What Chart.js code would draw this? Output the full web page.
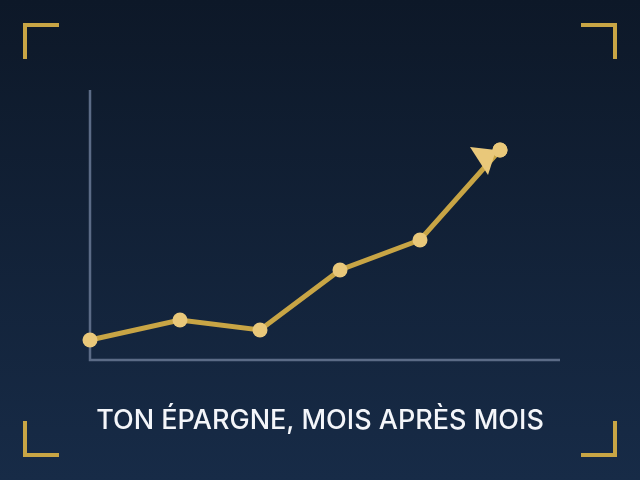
<!DOCTYPE html>
<html>
<head>
<meta charset="utf-8">
<script src="https://cdn.jsdelivr.net/npm/chart.js@4/dist/chart.umd.min.js"></script>
<style>
  html, body { margin: 0; padding: 0; }
  body { width: 640px; height: 480px; overflow: hidden;
         background: linear-gradient(180deg, #0d1828 0%, #172b47 100%); }
  #wrap { position: relative; width: 640px; height: 480px; }
  #title { position: absolute; left: 0; top: 403px; width: 640px; text-align: center;
           color: #f4f6fa; font-family: Inter, sans-serif; font-weight: 500; font-size: 27px; }
</style>
</head>
<body>
<div id="wrap">
  <canvas id="savingsChart" width="640" height="480"></canvas>
  <div id="title">TON ÉPARGNE, MOIS APRÈS MOIS</div>
</div>
<script>
// Data (x: month position, y: savings level)
const months = [0, 9, 17, 25, 33, 41];
const savings = [2, 4, 3, 9, 12, 21];
const xMax = 47;
const yMax = 27;

const GOLD = '#c8a545';
const GOLD_LIGHT = '#e9c87a';
const AXIS = '#5b6b86';

// Corner brackets, axes and the arrow head
const decorations = {
    id: 'decorations',
    beforeDatasetsDraw(chart) {
        const ctx = chart.ctx;
        const { left, right, top, bottom } = chart.chartArea;
        ctx.save();
        // corner brackets
        ctx.strokeStyle = GOLD;
        ctx.lineWidth = 4;
        const s = 34, m = 25;
        const W = chart.width, H = chart.height;
        const corners = [
            [[m, m + s], [m, m], [m + s, m]],
            [[W - m - s, m], [W - m, m], [W - m, m + s]],
            [[m, H - m - s], [m, H - m], [m + s, H - m]],
            [[W - m - s, H - m], [W - m, H - m], [W - m, H - m - s]]
        ];
        corners.forEach(c => {
            ctx.beginPath();
            ctx.moveTo(c[0][0], c[0][1]);
            ctx.lineTo(c[1][0], c[1][1]);
            ctx.lineTo(c[2][0], c[2][1]);
            ctx.stroke();
        });
        // axes
        ctx.strokeStyle = AXIS;
        ctx.lineWidth = 2.5;
        ctx.beginPath();
        ctx.moveTo(left, top);
        ctx.lineTo(left, bottom);
        ctx.lineTo(right, bottom);
        ctx.stroke();
        ctx.restore();
    },
    afterDatasetsDraw(chart) {
        const ctx = chart.ctx;
        const pts = chart.getDatasetMeta(0).data;
        const p = pts[pts.length - 1];
        ctx.save();
        ctx.fillStyle = GOLD_LIGHT;
        ctx.beginPath();
        ctx.moveTo(p.x - 4, p.y);
        ctx.lineTo(p.x - 30, p.y - 3);
        ctx.lineTo(p.x - 12, p.y + 25);
        ctx.closePath();
        ctx.fill();
        // redraw last point on top of the arrow
        ctx.beginPath();
        ctx.arc(p.x, p.y, 7.5, 0, Math.PI * 2);
        ctx.fill();
        ctx.restore();
    }
};

const ctx = document.getElementById('savingsChart').getContext('2d');
new Chart(ctx, {
    type: 'line',
    data: {
        datasets: [{
            data: months.map((m, i) => ({ x: m, y: savings[i] })),
            borderColor: GOLD,
            borderWidth: 5,
            pointBackgroundColor: GOLD_LIGHT,
            pointBorderWidth: 0,
            pointRadius: 7.5,
            tension: 0,
            clip: false
        }]
    },
    options: {
        responsive: false,
        animation: false,
        layout: { padding: { left: 90, right: 80, top: 90, bottom: 120 } },
        scales: {
            x: { type: 'linear', min: 0, max: xMax, display: false },
            y: { type: 'linear', min: 0, max: yMax, display: false }
        },
        plugins: {
            legend: { display: false },
            tooltip: { enabled: false }
        }
    },
    plugins: [decorations]
});
</script>
</body>
</html>
